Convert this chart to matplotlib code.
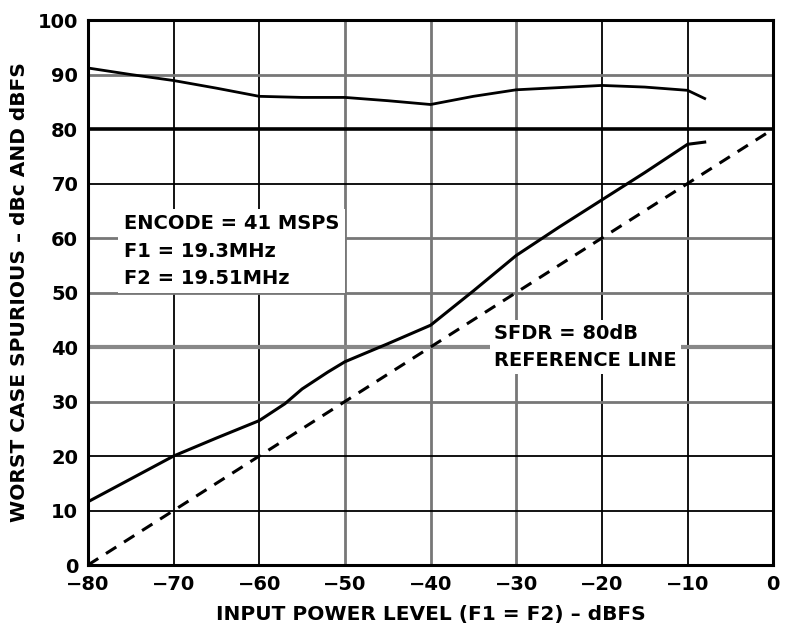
import numpy as np
import matplotlib.pyplot as plt

plt.rcParams['font.family'] = ['DejaVu Sans']
plt.rcParams['font.weight'] = 'bold'

# worst-case spur, dBFS (upper curve)
dbfs_x = [-80, -75, -70, -65, -60, -55, -50, -45, -40, -35, -30, -25, -20, -15, -10, -8]
dbfs_y = [91.2, 90.0, 88.9, 87.5, 86.0, 85.8, 85.8, 85.2, 84.5, 86.0, 87.2, 87.6, 88.0, 87.7, 87.1, 85.6]

# worst-case spur, dBc (lower curve)
dbc_x = [-80, -75, -70, -65, -60, -57, -55, -52, -50, -45, -40, -35, -30, -25, -20, -15, -10, -8]
dbc_y = [11.6, 15.8, 20.0, 23.3, 26.5, 29.6, 32.3, 35.4, 37.3, 40.6, 44.0, 50.3, 56.8, 62.0, 67.0, 72.0, 77.2, 77.6]

# 80 dB SFDR reference, dashed
ref_x = [-80, 0]
ref_y = [0, 80]

xticks = [-80, -70, -60, -50, -40, -30, -20, -10, 0]
yticks = [0, 10, 20, 30, 40, 50, 60, 70, 80, 90, 100]

fig = plt.figure(figsize=(7.85, 6.26), dpi=100)
ax = fig.add_axes([0.112, 0.0974, 0.873, 0.8706])

# scanned-look grid: mix of gray and black lines
vgrid_col = {-70: 'black', -60: 'black', -50: '#777777', -40: '#777777',
             -30: '#777777', -20: 'black', -10: 'black'}
hgrid_col = {10: 'black', 20: 'black', 30: '#777777', 40: '#888888', 50: '#777777',
             60: '#777777', 70: 'black', 90: '#777777'}
for x, c in vgrid_col.items():
    ax.axvline(x, color=c, lw=1.3 if c == 'black' else 2.0, zorder=1)
for y, c in hgrid_col.items():
    ax.axhline(y, color=c, lw=(3.0 if y == 40 else 1.3 if c == 'black' else 2.0), zorder=1)
ax.axhline(80, color='black', lw=2.6, zorder=2)

ax.plot(dbfs_x, dbfs_y, color='black', lw=2.0, zorder=4)
ax.plot(dbc_x, dbc_y, color='black', lw=2.2, zorder=4)
ax.plot(ref_x, ref_y, color='black', lw=2.2, ls=(0, (4, 3)), zorder=4)

ax.text(-75.8, 57.6, 'ENCODE = 41 MSPS\nF1 = 19.3MHz\nF2 = 19.51MHz', fontsize=14,
        fontweight='bold', va='center', ha='left', linespacing=1.55, zorder=3,
        bbox=dict(facecolor='white', edgecolor='none', pad=4))
ax.text(-32.6, 40.0, 'SFDR = 80dB\nREFERENCE LINE', fontsize=14,
        fontweight='bold', va='center', ha='left', linespacing=1.55, zorder=3,
        bbox=dict(facecolor='white', edgecolor='none', pad=3))

ax.set_xlim(-80, 0)
ax.set_ylim(0, 100)
ax.set_xticks(xticks)
ax.set_yticks(yticks)
ax.set_xticklabels(['\u2212' + str(-t) if t < 0 else str(t) for t in xticks])
ax.tick_params(length=0, labelsize=14, pad=7)
for lab in ax.get_xticklabels() + ax.get_yticklabels():
    lab.set_fontweight('bold')
for sp in ax.spines.values():
    sp.set_linewidth(2.2)
    sp.set_zorder(5)

ax.set_xlabel('INPUT POWER LEVEL (F1 = F2) \u2013 dBFS', fontsize=14.5, fontweight='bold', labelpad=8)
ax.set_ylabel('WORST CASE SPURIOUS \u2013 dBc AND dBFS', fontsize=14.5, fontweight='bold', labelpad=6)

fig.savefig('out.png', dpi=100)
